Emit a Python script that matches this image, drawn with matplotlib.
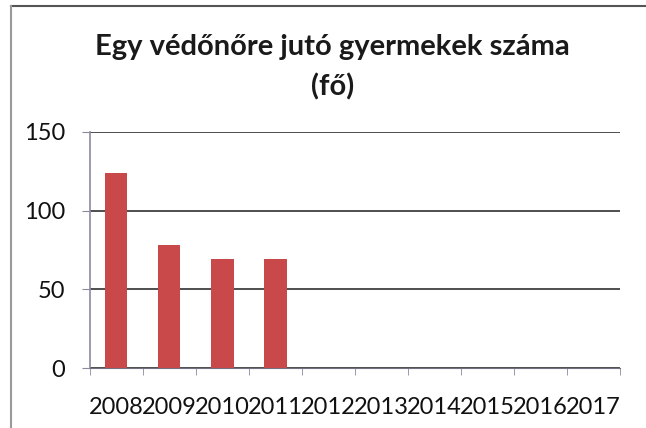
import numpy as np
import matplotlib.pyplot as plt
from matplotlib.lines import Line2D

years = ["2008", "2009", "2010", "2011", "2012", "2013", "2014", "2015", "2016", "2017"]
values = [124, 78, 69, 69, 0, 0, 0, 0, 0, 0]
title1 = "Egy védőnőre jutó gyermekek száma"
title2 = "(fő)"

plt.rcParams['font.family'] = ['Lato', 'DejaVu Sans']

fig = plt.figure(figsize=(6.46, 4.28), dpi=100)
fig.patch.set_facecolor("white")
ax = fig.add_axes([0.139, 0.140, 0.821, 0.552])

x = np.arange(len(years))
ax.bar(x, values, width=0.42, color="#C9484A", zorder=3)

ax.set_xlim(-0.5, len(years) - 0.5)
ax.set_ylim(0, 150)
ax.set_yticks([0, 50, 100, 150])
ax.grid(axis="y", color="#303030", linewidth=1.2, zorder=0)

ax.set_xticks(x)
ax.set_xticklabels(years, fontsize=17, color="#111111")
ax.tick_params(axis="x", length=0, pad=21)
ax.set_xticks(np.arange(len(years) + 1) - 0.5, minor=True)
ax.tick_params(axis="x", which="minor", length=5, color="#8a8aa0", direction="out")
ax.tick_params(axis="y", labelsize=17, length=6, color="#8a8aa0", pad=12, labelcolor="#111111")

for s in ["top", "right"]:
    ax.spines[s].set_visible(False)
ax.spines["left"].set_color("#8a8aa0")
ax.spines["bottom"].set_color("#707080")
ax.spines["left"].set_linewidth(1.2)

fig.text(0.515, 0.890, title1, ha="center", va="center", fontsize=21,
         fontweight="bold", color="#1a1a1a")
fig.text(0.515, 0.797, title2, ha="center", va="center", fontsize=21,
         fontweight="bold", color="#1a1a1a")

# keret (felül és balra)
fig.add_artist(Line2D([11 / 646, 1.0], [1 - 6 / 428, 1 - 6 / 428], transform=fig.transFigure,
                      color="#555555", linewidth=1.5))
fig.add_artist(Line2D([11 / 646, 11 / 646], [0.0, 1 - 6 / 428], transform=fig.transFigure,
                      color="#9a9a9a", linewidth=1.5))

fig.savefig("out.png", dpi=100)
